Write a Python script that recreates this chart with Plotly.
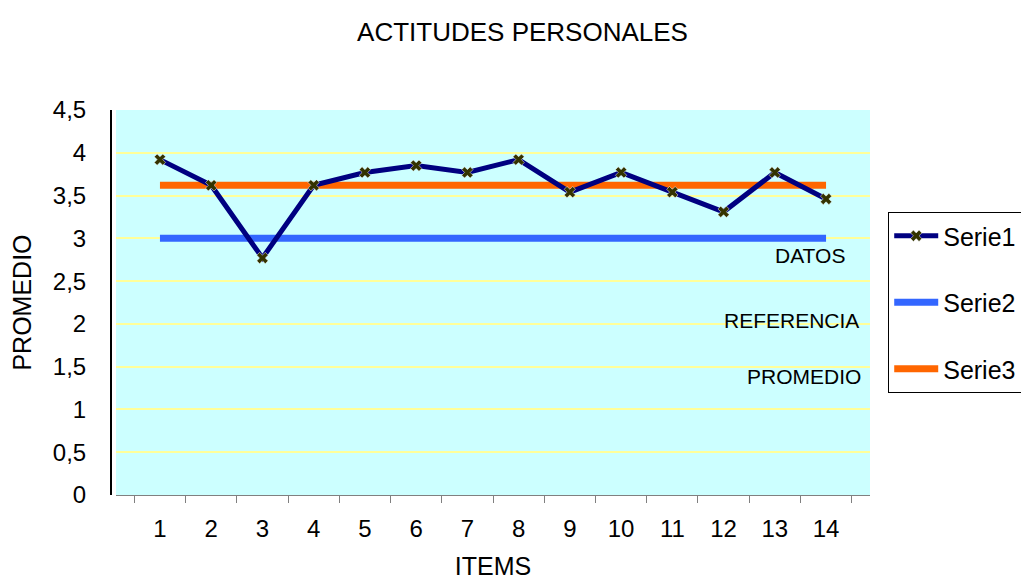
import plotly.graph_objects as go

items = [str(i) for i in range(1, 15)]
datos = [3.92, 3.62, 2.77, 3.62, 3.77, 3.85, 3.77, 3.92, 3.54, 3.77, 3.54, 3.31, 3.77, 3.46]
referencia = [3.0] * 14
promedio = [3.62] * 14

font = "Liberation Sans, Arial, sans-serif"

fig = go.Figure()

# reference lines drawn first so the data line sits on top
fig.add_trace(go.Scatter(x=items, y=referencia, name="Serie2", mode="lines",
                         line=dict(color="#3366FF", width=7),
                         legendgroup="b", legendrank=2))
fig.add_trace(go.Scatter(x=items, y=promedio, name="Serie3", mode="lines",
                         line=dict(color="#FF6600", width=7),
                         legendgroup="c", legendrank=3))
fig.add_trace(go.Scatter(x=items, y=datos, name="Serie1", mode="lines+markers",
                         line=dict(color="#000080", width=5),
                         marker=dict(symbol="x", size=10, color="#333300",
                                     line=dict(color="white", width=0.5)),
                         legendgroup="a", legendrank=1))

# text labels inside the plot
fig.add_annotation(x=1.0, y=2.8, xref="paper", yref="y", text="DATOS",
                   showarrow=False, xanchor="right", xshift=-23,
                   font=dict(size=21, color="black"))
fig.add_annotation(x=1.0, y=2.04, xref="paper", yref="y", text="REFERENCIA",
                   showarrow=False, xanchor="right", xshift=-9,
                   font=dict(size=21, color="black"))
fig.add_annotation(x=1.0, y=1.39, xref="paper", yref="y", text="PROMEDIO",
                   showarrow=False, xanchor="right", xshift=-7,
                   font=dict(size=21, color="black"))

fig.update_layout(
    width=1029, height=580,
    margin=dict(l=103, r=167, t=102, b=93, autoexpand=False),
    paper_bgcolor="white",
    plot_bgcolor="#CCFFFF",
    separators=", ",
    font=dict(family=font, size=24, color="black"),
    title=dict(text="ACTITUDES PERSONALES", x=0.5, xanchor="center",
               y=0.959, yanchor="middle", font=dict(size=26)),
    legend=dict(x=1.024, y=0.735, xanchor="left", yanchor="top",
                bordercolor="black", borderwidth=1, bgcolor="white",
                font=dict(size=25), tracegroupgap=31, traceorder="grouped",
                itemwidth=44),
    xaxis=dict(type="category", domain=[0.0066, 1], tickson="boundaries",
               ticks="outside", ticklen=7, tickcolor="#808080",
               showline=True, linecolor="#808080", linewidth=1,
               showgrid=False, anchor="y", automargin=False,
               ticklabelstandoff=12,
               title=dict(text="ITEMS", standoff=16, font=dict(size=25))),
    yaxis=dict(range=[0, 4.5], dtick=0.5, anchor="free", position=0,
               showline=True, linecolor="black", linewidth=2,
               gridcolor="#FFFF99", gridwidth=2, zeroline=False,
               ticks="", ticklabelstandoff=19, automargin=False,
               title=dict(text="PROMEDIO", standoff=14, font=dict(size=25))),
)

fig.write_html("out.html")
